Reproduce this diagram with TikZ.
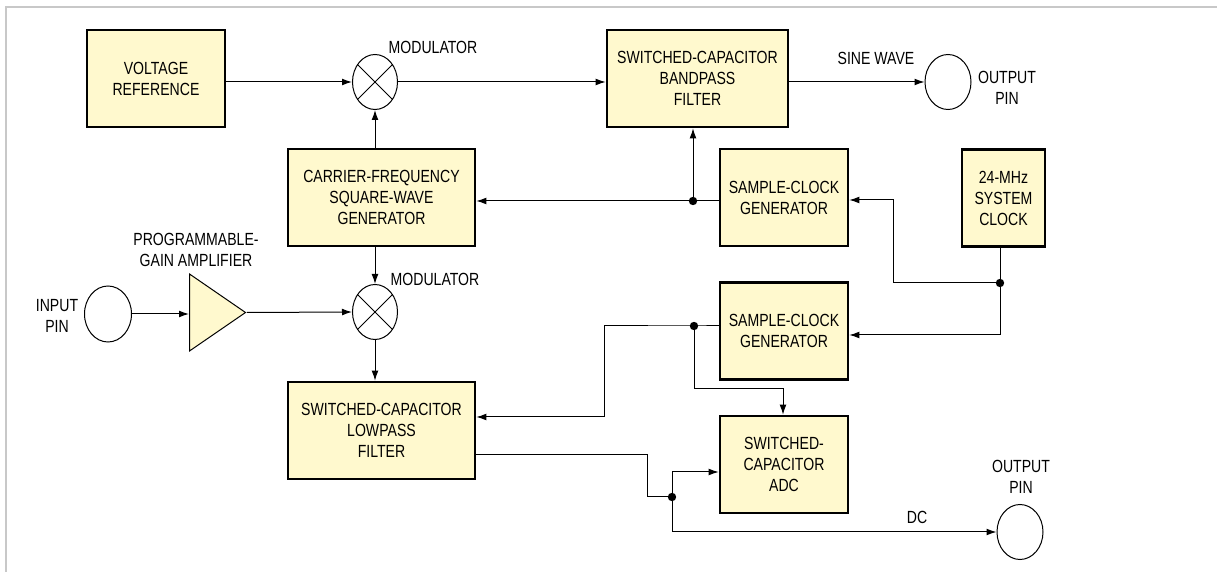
\documentclass[tikz,border=0pt]{standalone}
\usepackage{fontspec}
\setmainfont{Liberation Sans}[FakeStretch=0.8]
\usetikzlibrary{arrows.meta,shapes.geometric}
\definecolor{boxfill}{RGB}{255,249,206}
\definecolor{framegray}{RGB}{200,200,200}
\begin{document}
\begin{tikzpicture}[
    x=0.5pt, y=-0.5pt,
    font=\fontsize{8.8}{10.5}\selectfont,
    >={Latex[length=5pt,width=3.4pt]},
    line width=0.5pt,
    block/.style={rectangle, draw, line width=1.3pt, fill=boxfill, align=center, inner sep=1pt, minimum height=48.5pt},
    pin/.style={ellipse, draw, fill=white, inner sep=0pt, minimum width=23pt, minimum height=27.5pt},
    mixer/.style={ellipse, draw, fill=white, inner sep=0pt, minimum width=22.5pt, minimum height=27.5pt},
    dot/.style={circle, fill, inner sep=0pt, minimum size=4.2pt},
    lbl/.style={align=center, inner sep=0pt},
]
    \useasboundingbox (0,0) rectangle (1217,572);

    % Page frame (top and left edges)
    \draw[framegray, line width=0.8pt] (6,572) -- (6,7) -- (1217,7);

    % Upper chain
    \node[block, minimum width=69pt]   (vref) at (156,78.5)  {VOLTAGE\\REFERENCE};
    \node[mixer]                       (mod1) at (375,82)    {};
    \node[block, minimum width=90.5pt] (bpf)  at (697.5,78.5) {SWITCHED-CAPACITOR\\BANDPASS\\FILTER};
    \node[pin]                         (out1) at (948,82)    {};

    % Clock section
    \node[block, minimum width=93.5pt] (carr)   at (381.5,197.5) {CARRIER-FREQUENCY\\SQUARE-WAVE\\GENERATOR};
    \node[block, minimum width=64pt]   (scg1)   at (784,197.5)   {SAMPLE-CLOCK\\GENERATOR};
    \node[block, minimum width=41.5pt] (sysclk) at (1003.5,198)  {24-MHz\\SYSTEM\\CLOCK};

    % Lower chain
    \node[pin, minimum width=23.5pt, minimum height=28pt] (inpin) at (108,314) {};
    \node[isosceles triangle, draw, fill=boxfill, inner sep=0pt,
          isosceles triangle stretches, minimum width=38.5pt, minimum height=28pt,
          anchor=west] (amp) at (189,312.5) {};
    \node[mixer]                       (mod2) at (375,312)   {};
    \node[block, minimum width=64pt]   (scg2) at (784,331)   {SAMPLE-CLOCK\\GENERATOR};
    \node[block, minimum width=93.5pt] (lpf)  at (381.5,430.5) {SWITCHED-CAPACITOR\\LOWPASS\\FILTER};
    \node[block, minimum width=64pt]   (adc)  at (784,464.5) {SWITCHED-\\CAPACITOR\\ADC};
    \node[pin]                         (out2) at (1020,532)  {};

    % Crosses in the modulators
    \foreach \m in {mod1,mod2}{
      \draw (\m.45) -- (\m.225);
      \draw (\m.135) -- (\m.315);
    }

    % Labels
    \node[lbl] (lmod1) at (433,47)   {MODULATOR};
    \node[lbl] (lmod2) at (435,279)  {MODULATOR};
    \node[lbl] (lsine) at (876,58)   {SINE WAVE};
    \node[lbl] (lout1) at (1007,88)  {OUTPUT\\PIN};
    \node[lbl] (lpga)  at (196,250)  {PROGRAMMABLE-\\GAIN AMPLIFIER};
    \node[lbl] (lin)   at (57,316)   {INPUT\\PIN};
    \node[lbl] (lout2) at (1021,477) {OUTPUT\\PIN};
    \node[lbl] (ldc)   at (917,517)  {DC};

    % Junctions
    \node[dot] (j1) at (693,201)  {};
    \node[dot] (j2) at (1000,283) {};
    \node[dot] (j3) at (694,326)  {};
    \node[dot] (j4) at (672,497)  {};

    % Signal path
    \draw[->] (vref.east |- mod1.west) -- (mod1.west);
    \draw[->] (mod1.east) -- (mod1.east -| bpf.west);
    \draw[->] (bpf.east |- out1.west) -- (out1.west);
    \draw[->] (mod1.south |- carr.north) -- (mod1.south);
    \draw[->] (mod2.north |- carr.south) -- (mod2.north);
    \draw[->] (inpin.east) -- (inpin.east -| amp.west);
    \draw[->] (amp.apex) -- (mod2.west);
    \draw[->] (mod2.south) -- (mod2.south |- lpf.north);

    % Sample clock 1 to carrier and bandpass
    \draw[->] (j1 -| scg1.west) -- (j1 -| carr.east);
    \draw[->] (j1.center) -- (j1 |- bpf.south);

    % System clock distribution
    \draw (j2 |- sysclk.south) -- (j2.center);
    \draw[->] (j2.center) -- ++(-107,0) |- ([yshift=-1.25pt]scg1.east);
    \draw[->] (j2.center) |- ([yshift=-2pt]scg2.east);

    % Sample clock 2 to lowpass and ADC
    \draw[->] (j3 -| scg2.west) -- (j3.center) -- ++(-90,0) |- ([yshift=6.75pt]lpf.east);
    \draw[->] (j3.center) -- ++(0,63) -| ([xshift=-0.5pt]adc.north);

    % Lowpass output to ADC and DC pin
    \draw ([yshift=-12.25pt]lpf.east) -- ++(171,0) |- (j4.center);
    \draw[->] (j4.center) |- ([yshift=-3.75pt]adc.west);
    \draw[->] (j4.center) |- (out2.west);
\end{tikzpicture}
\end{document}
